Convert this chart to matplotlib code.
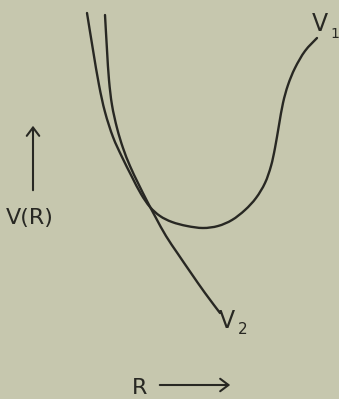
import matplotlib
matplotlib.use("Agg")
import matplotlib.pyplot as plt
from matplotlib.path import Path
from matplotlib.patches import PathPatch

# Potential energy curves V(R) for two electronic states
r_v1 = [87, 93, 99, 105, 113, 122, 132, 141, 150, 160, 172, 187, 203, 218, 232, 245,
        256, 265, 271, 275, 279, 283, 288, 295, 305, 317]
v_v1 = [386, 349, 314, 287, 262, 242, 222, 205, 192, 183, 177, 173, 171, 173, 179, 189,
        201, 216, 233, 251, 274, 296, 314, 331, 348, 361]

r_v2 = [105, 107, 109, 112, 117, 123, 130, 138, 147, 156, 166, 178, 191, 205, 220]
v_v2 = [384, 349, 319, 294, 271, 251, 233, 216, 198, 181, 163, 145, 126, 106, 86]

paper = "#c6c7ae"
ink = "#282823"


def smooth_path(xs, ys):
    """Cubic Bezier path passing through every point (Catmull-Rom tangents)."""
    pts = list(zip(xs, ys))
    ext = [pts[0]] + pts + [pts[-1]]
    verts = [pts[0]]
    codes = [Path.MOVETO]
    for i in range(1, len(ext) - 2):
        p0, p1, p2, p3 = ext[i - 1], ext[i], ext[i + 1], ext[i + 2]
        c1 = (p1[0] + (p2[0] - p0[0]) / 6, p1[1] + (p2[1] - p0[1]) / 6)
        c2 = (p2[0] - (p3[0] - p1[0]) / 6, p2[1] - (p3[1] - p1[1]) / 6)
        verts += [c1, c2, p2]
        codes += [Path.CURVE4] * 3
    return Path(verts, codes)


fig = plt.figure(figsize=(3.39, 3.99), dpi=100, facecolor=paper)
ax = fig.add_axes([0, 0, 1, 1])
ax.set_facecolor(paper)
ax.set_xlim(0, 339)
ax.set_ylim(0, 399)
ax.axis("off")

for xs, ys in ((r_v1, v_v1), (r_v2, v_v2)):
    ax.add_patch(PathPatch(smooth_path(xs, ys), facecolor="none", edgecolor=ink,
                           lw=1.7, capstyle="round", joinstyle="round"))

font = dict(family="DejaVu Sans", color=ink)

# curve labels
ax.text(312, 368, "V", fontsize=17, ha="left", va="baseline", **font)
ax.text(330, 361, "1", fontsize=10, ha="left", va="baseline", **font)
ax.text(219, 71, "V", fontsize=17, ha="left", va="baseline", **font)
ax.text(238, 65, "2", fontsize=11, ha="left", va="baseline", **font)

# axis labels with arrows
ax.text(6, 175, "V(R)", fontsize=16, ha="left", va="baseline", **font)
ax.annotate("", xy=(33, 276), xytext=(33, 206),
            arrowprops=dict(arrowstyle="->,head_length=0.6,head_width=0.45",
                            color=ink, lw=1.5))
ax.text(132, 5, "R", fontsize=16, ha="left", va="baseline", **font)
ax.annotate("", xy=(233, 14), xytext=(157, 14),
            arrowprops=dict(arrowstyle="->,head_length=0.6,head_width=0.45",
                            color=ink, lw=1.5))

fig.savefig("out.png", dpi=100, facecolor=paper)
